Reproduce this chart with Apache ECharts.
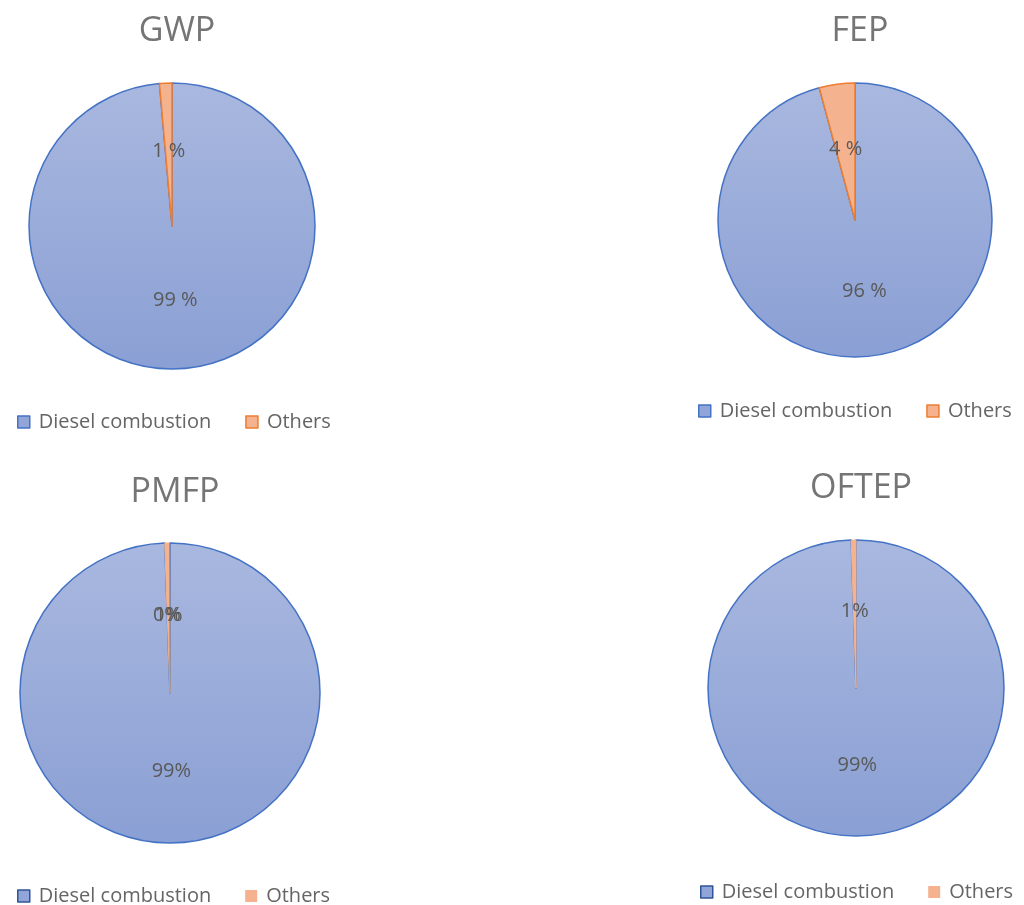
<!DOCTYPE html>
<html>
<head>
<meta charset="utf-8">
<script src="https://cdn.jsdelivr.net/npm/echarts@6/dist/echarts.min.js"></script>
<style>
  html, body { margin: 0; padding: 0; background: #fff; }
  #chart { width: 1024px; height: 905px; }
</style>
</head>
<body>
<div id="chart"></div>
<script>
// Share of each impact category by source (percent)
const categories = ['Diesel combustion', 'Others'];
const titles = ['GWP', 'FEP', 'PMFP', 'OFTEP'];
const gwpValues = [98.6, 1.4];
const fepValues = [95.8, 4.2];
const pmfpValues = [99.44, 0.51, 0.05];   // last entry: residual share, not in legend
const oftepValues = [99.48, 0.52];

const panels = [
  { title: titles[0], values: gwpValues, spaced: true,  center: [172, 226], r: 143, titleY: 9, legendY: 407, legendX: 12 },
  { title: titles[1], values: fepValues, spaced: true,  center: [855, 220], r: 137, titleY: 9, legendY: 396, legendX: 693 },
  { title: titles[2], values: pmfpValues, spaced: false, center: [170, 693], r: 150, titleY: 470, legendY: 881, legendX: 12 },
  { title: titles[3], values: oftepValues, spaced: false, center: [856, 688], r: 148, titleY: 466, legendY: 877, legendX: 695 }
];

const FONT = '"Open Sans", "Noto Sans", sans-serif';
const blueFill = {
  type: 'linear', x: 0, y: 0, x2: 0, y2: 1,
  colorStops: [{ offset: 0, color: '#a9b8df' }, { offset: 1, color: '#8a9fd4' }]
};
const orangeFill = '#f4b28f';

const chart = echarts.init(document.getElementById('chart'), null, { renderer: 'canvas' });

const title = panels.map(p => ({
  text: p.title,
  left: p.center[0],
  top: p.titleY,
  textAlign: 'center',
  textStyle: { fontFamily: FONT, fontSize: 34, fontWeight: 'normal', color: '#757575' }
}));

const legend = panels.map((p, i) => {
  const bottomRow = i >= 2;
  return {
    left: p.legendX,
    top: p.legendY,
    itemWidth: 12,
    itemHeight: 12,
    itemGap: 34,
    icon: 'rect',
    textStyle: { fontFamily: FONT, fontSize: 20, color: '#656565', padding: [0, 0, 0, 4] },
    data: [
      { name: categories[0], itemStyle: { color: '#92a5d8', borderColor: bottomRow ? '#2f5597' : '#4472c4', borderWidth: 1.5 } },
      { name: categories[1], itemStyle: bottomRow
          ? { color: orangeFill, borderWidth: 0 }
          : { color: orangeFill, borderColor: '#ed7d31', borderWidth: 1.5 } }
    ],
    selectedMode: false
  };
});

const series = panels.map(p => ({
  type: 'pie',
  center: p.center,
  radius: p.r,
  startAngle: 90,
  clockwise: true,
  silent: true,
  animation: false,
  percentPrecision: 3,
  minShowLabelAngle: 0,
  avoidLabelOverlap: false,
  labelLayout: { hideOverlap: false },
  label: {
    show: true,
    position: 'inside',
    fontFamily: FONT,
    fontSize: 20,
    color: '#595959',
    overflow: 'none',
    formatter: params => Math.round(params.percent) + (p.spaced ? ' %' : '%')
  },
  labelLine: { show: false },
  data: p.values.map((v, k) => {
    if (k === 0) {
      return { name: categories[0], value: v, itemStyle: { color: blueFill, borderColor: '#4472c4', borderWidth: 1.5 } };
    }
    if (k === 1) {
      return { name: categories[1], value: v, itemStyle: { color: orangeFill, borderColor: p.spaced ? '#ed7d31' : '#f4b28f', borderWidth: p.spaced ? 1.5 : 1 } };
    }
    return {
      name: 'Residual', value: v,
      itemStyle: { color: '#8c8c8c', borderColor: '#8c8c8c', borderWidth: 0.5 },
      label: { show: true, position: 'inside', offset: [-3, 0] }
    };
  })
}));

chart.setOption({
  backgroundColor: '#ffffff',
  title,
  legend,
  series
});
</script>
</body>
</html>
